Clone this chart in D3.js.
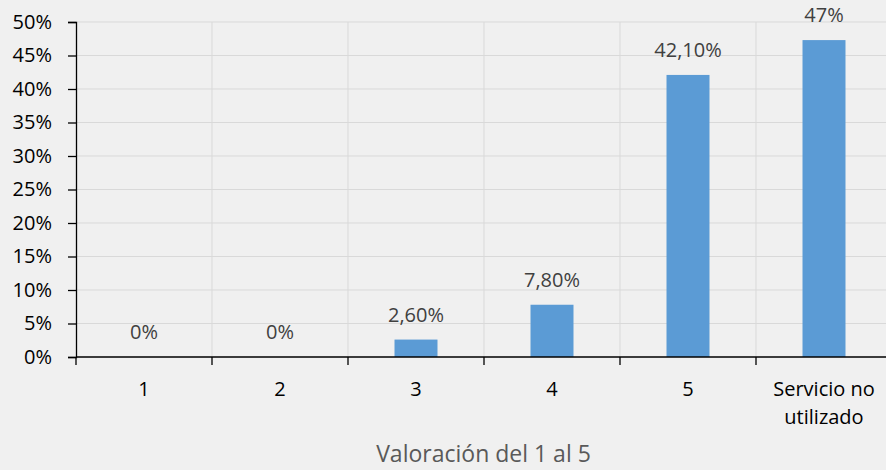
<!DOCTYPE html>
<html>
<head>
<meta charset="utf-8">
<script src="https://cdn.jsdelivr.net/npm/d3@7"></script>
<style>
  html, body { margin: 0; padding: 0; background: #f0f0f0; }
  svg { display: block; font-family: "Open Sans", sans-serif; }
</style>
</head>
<body>
<svg id="chart" width="886" height="470"></svg>
<script>
// chart data
const categories = ['1', '2', '3', '4', '5', 'Servicio no utilizado'];
const values = [0, 0, 0.026, 0.078, 0.421, 0.473];
const valueLabels = ['0%', '0%', '2,60%', '7,80%', '42,10%', '47%'];
const yTicks = [0, 0.05, 0.1, 0.15, 0.2, 0.25, 0.3, 0.35, 0.4, 0.45, 0.5];
const axisTitle = 'Valoración del 1 al 5';

const svg = d3.select('#chart');

const cs = {
  left: 76,
  right: 892,
  top: 22,
  bottom: 357,
  palette: { bar: '#5b9bd5', grid: '#d9d9d9', axis: '#000', label: '#404040', title: '#595959' },
};

// category slots (gridlines) and bars inside them
const xSlot = d3.scaleBand().domain(categories).range([cs.left, cs.right]).padding(0);
const x = d3.scaleBand().domain(categories).range([cs.left, cs.right])
  .paddingInner(0.684).paddingOuter(0.342);
const y = d3.scaleLinear().domain([0, 0.5]).range([cs.bottom, cs.top]);

// horizontal gridlines
svg.append('g').selectAll('line').data(yTicks.filter(d => d > 0)).join('line')
  .attr('x1', cs.left).attr('x2', cs.right)
  .attr('y1', d => y(d)).attr('y2', d => y(d))
  .attr('stroke', cs.palette.grid).attr('stroke-width', 1);

// vertical gridlines at slot boundaries
svg.append('g').selectAll('line').data(categories.slice(1)).join('line')
  .attr('x1', d => xSlot(d)).attr('x2', d => xSlot(d))
  .attr('y1', cs.top).attr('y2', cs.bottom)
  .attr('stroke', cs.palette.grid).attr('stroke-width', 1);

// bars
svg.append('g').selectAll('rect').data(values).join('rect')
  .attr('x', (d, i) => x(categories[i]))
  .attr('width', x.bandwidth())
  .attr('y', d => y(d))
  .attr('height', d => y(0) - y(d))
  .attr('fill', cs.palette.bar);

// data labels
svg.append('g').selectAll('text').data(values).join('text')
  .attr('x', (d, i) => x(categories[i]) + x.bandwidth() / 2)
  .attr('y', d => y(d) - 18)
  .attr('text-anchor', 'middle')
  .attr('font-size', 20)
  .attr('fill', cs.palette.label)
  .text((d, i) => valueLabels[i]);

// y axis
const yAxis = d3.axisLeft(y).tickValues(yTicks).tickFormat(d3.format('.0%'))
  .tickSize(8).tickPadding(16);
const gy = svg.append('g').attr('transform', `translate(${cs.left},0)`).call(yAxis);
gy.select('.domain').attr('stroke', cs.palette.axis).attr('stroke-width', 1.3);
gy.selectAll('.tick line').attr('stroke', cs.palette.axis).attr('stroke-width', 1.3);
gy.selectAll('.tick text').attr('font-size', 20).attr('fill', '#000')
  .attr('font-family', '"Open Sans", sans-serif');

// x axis: line plus ticks at slot boundaries
const gx = svg.append('g');
gx.append('line')
  .attr('x1', cs.left).attr('x2', cs.right)
  .attr('y1', cs.bottom).attr('y2', cs.bottom)
  .attr('stroke', cs.palette.axis).attr('stroke-width', 1.3);
gx.selectAll('.xtick').data(categories).join('line')
  .attr('class', 'xtick')
  .attr('x1', d => xSlot(d)).attr('x2', d => xSlot(d))
  .attr('y1', cs.bottom).attr('y2', cs.bottom + 8)
  .attr('stroke', cs.palette.axis).attr('stroke-width', 1.3);

// category labels, wrapped where long
const catLines = d => d.length > 10 ? ['Servicio no', 'utilizado'] : [d];
gx.selectAll('.xlabel').data(categories).join('text')
  .attr('class', 'xlabel')
  .attr('text-anchor', 'middle')
  .attr('font-size', 20)
  .attr('fill', '#000')
  .each(function (d) {
    const t = d3.select(this);
    catLines(d).forEach((line, k) => {
      t.append('tspan')
        .attr('x', xSlot(d) + xSlot.bandwidth() / 2)
        .attr('y', 396 + k * 28)
        .text(line);
    });
  });

// axis title
svg.append('text')
  .attr('x', 483.5).attr('y', 462)
  .attr('text-anchor', 'middle')
  .attr('font-size', 23)
  .attr('fill', cs.palette.title)
  .text(axisTitle);
</script>
</body>
</html>
